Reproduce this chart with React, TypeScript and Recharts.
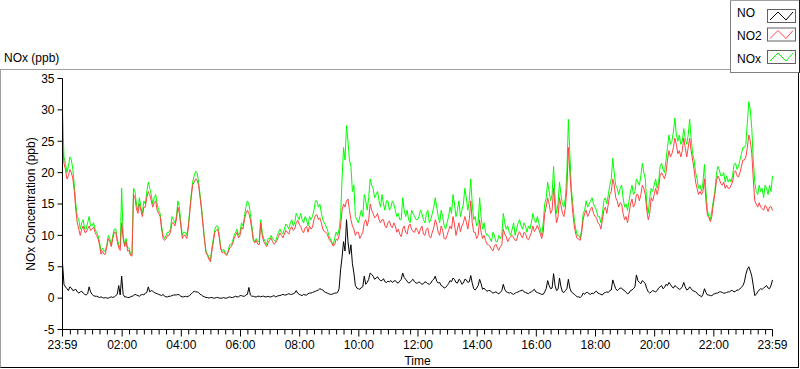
import React from 'react';
import { LineChart, Line, XAxis, YAxis } from 'recharts';

// values read every 6 minutes from the 23:59 start
const noxValues = [
  30, 21.5, 21, 22, 18, 13, 11, 12.5, 11, 13, 11.5, 11, 10, 7.5, 7.5, 8.5, 9.5, 10, 11, 8.5,
  17.5, 8.5, 8, 7, 17.5, 15, 16, 13.5, 15, 18.5, 16.5, 16, 15, 13.5, 10, 10, 10.5, 13, 12, 15.5, 12,
  10.5, 10, 14, 18.5, 20.2, 18.5, 14.5, 9.5, 7, 6, 9.5, 11.5, 10, 7.5, 7.2, 7.5, 8.5, 10, 11, 10.5,
  11.5, 14.5, 15, 11.5, 9, 9, 12.5, 9.5, 8.5, 9.5, 9.5, 9, 10.5, 10.5, 11, 11.5, 12, 11.5, 13.5, 12.5,
  12.5, 13, 11.5, 12.5, 14, 15.5, 15, 12.5, 11.5, 10, 9, 9.5, 10, 13, 24, 27.5, 22, 17, 13, 12,
  14, 16.5, 14, 19, 17.5, 16.5, 15.5, 16.5, 14, 15.5, 14.5, 15, 13, 12.5, 16, 13, 12.5, 14, 13, 12.5,
  14, 12.5, 13.5, 12, 13.5, 16, 13, 14, 11.5, 12, 14.5, 16.5, 13, 15.5, 14, 17.5, 14, 19, 12.5, 11.5,
  16, 11, 10.5, 10, 9, 10, 9, 9.5, 13.5, 11, 10.5, 11, 10, 12, 11.5, 12, 10.5, 11, 13.5, 12,
  12, 10, 15, 18.5, 15.5, 21, 13.5, 18.5, 15, 16, 28.5, 17.5, 12.5, 10, 9.5, 13.5, 15.5, 15, 16, 14.5,
  13, 12, 15.5, 15, 18, 22.3, 18, 16.5, 18, 14.5, 14, 17, 16.5, 19, 18, 21.5, 19, 13.5, 17.5, 18,
  17.5, 21, 20.5, 22, 26, 25, 28.7, 25, 24.5, 27, 24.5, 28.5, 23, 20, 17.5, 17, 21.3, 14, 12.5, 15.5,
  19.5, 20.5, 19.5, 18.5, 18.5, 18.5, 21.3, 20.5, 22, 24, 24.5, 31.3, 27, 18.5, 16.5, 17, 16, 17.5, 18, 19.5,
];
// values read 3 minutes after each of the above
const noxMid = [
  22.5, 20, 22.5, 20.5, 15, 12.5, 12, 11, 12, 11.5, 12, 10.5, 9, 8, 7.5, 10, 8.5, 11, 9.5, 8,
  10, 9.5, 8, 7, 17, 14, 14.5, 15.5, 17, 17.5, 15, 16.5, 14, 11.5, 9.5, 10.5, 11, 12.5, 13, 14.5,
  10, 10.5, 11.5, 16.5, 19.5, 20, 16.5, 12, 7.5, 6.5, 8, 11, 11.5, 8, 7.8, 7, 8.5, 9, 10.5, 10,
  12, 13, 15.5, 13.5, 9.5, 9.5, 9, 10.5, 9, 9.5, 10, 9.2, 9.8, 11, 10.2, 11.8, 11, 12.5, 12, 13,
  13.5, 12, 12.5, 13, 13, 15.5, 14.5, 13.5, 12, 11, 9.5, 8.5, 10.5, 11, 19, 22, 25, 21, 18, 12.5,
  13, 13, 15.5, 16, 18, 16, 17, 14.5, 15, 15.5, 14, 15.5, 14, 13.5, 12.5, 14, 14, 12, 13.5, 12.5,
  13, 13.5, 12, 14, 12.5, 14.5, 14.5, 12, 13, 11, 13, 13.5, 15, 14, 13, 15, 16, 15.5, 15, 13,
  12, 13, 12, 10, 9.5, 10.5, 9, 10, 10, 12, 11.5, 10, 12, 11, 12.5, 11, 11.5, 11.5, 12, 12.5,
  13, 11, 12, 16, 17, 16.5, 16, 15, 16.5, 14.5, 20, 23, 15, 11, 10, 11, 14, 14.5, 15.5, 15,
  14, 13, 13.5, 16, 16.5, 19, 20, 17.5, 17.5, 16, 15, 15.5, 18, 17, 18.5, 19.5, 20, 15, 16, 17,
  19, 18.5, 21.5, 20, 24, 24.5, 26.5, 26, 26, 25, 25.5, 26, 25.5, 22, 19, 18, 18.5, 17, 13, 14,
  17, 21, 19.5, 20, 19.5, 19, 19.5, 21.5, 21, 23, 24, 28, 30, 22, 17, 18, 17.5, 18, 16.5, 17,
];

const no2Values = [
  24.5, 20.5, 19.5, 20, 17, 12, 10, 11.5, 10.5, 11.5, 11, 10.5, 9.5, 7, 7, 8.3, 9, 9.5, 10.5, 8,
  12, 8.2, 7.5, 6.8, 16.5, 14.2, 15, 13, 14.5, 17, 15.5, 15.2, 14, 13, 9.5, 9.5, 10, 12, 11.5, 14.5, 11.5,
  10, 9.5, 13.5, 18, 19, 18, 14, 9.2, 6.8, 5.8, 9, 10.8, 9.6, 7.2, 7, 7.3, 8.2, 9.5, 10.5, 10,
  11, 13.5, 13.5, 11, 8.8, 8.6, 12, 9, 8.2, 9.2, 9, 8.8, 9.8, 10, 10.2, 10.5, 11, 10.8, 12, 11.8,
  10.8, 11.2, 10.5, 11, 12.5, 13.3, 12.8, 11, 10.5, 9.5, 8.8, 8.5, 9.2, 11.5, 15, 15.5, 14, 11.5, 10, 10.5,
  10, 12, 11.5, 15, 13.5, 13, 12.5, 12.5, 11.5, 12, 11.5, 12, 10.5, 10.2, 11, 10.5, 11.5, 11, 10.5, 10.8,
  11, 10.2, 11, 9.8, 10.5, 12.5, 10.5, 11.5, 9.5, 10, 11.5, 13, 10, 12, 11.5, 13, 11, 15.5, 10.5, 9.5,
  12.5, 9.5, 9.2, 8.5, 7.8, 8.3, 8, 8.2, 11, 9.8, 9.5, 10, 9.2, 10.2, 10, 10.5, 9.5, 9.8, 11.5, 11,
  11, 9.5, 13.5, 16, 13.5, 17.5, 12, 16, 13.5, 14.5, 24, 16.5, 11.5, 9.5, 9.2, 12.5, 14, 13.5, 14.5, 13,
  12, 11, 14, 13.5, 16.5, 19, 16, 14.5, 15, 12.5, 12, 15, 14.5, 16.5, 15.5, 18, 16.5, 12.5, 16, 16.5,
  16.5, 19.5, 19.5, 20, 23.5, 23, 25.5, 23, 22.5, 25.5, 22.5, 25.5, 22, 18.5, 16.5, 16.5, 19, 13.2, 12.2, 15,
  18.5, 19, 18, 17.5, 17.5, 18, 20, 19.5, 20, 22, 22.5, 26, 23, 15.5, 14.5, 14.5, 14, 14.5, 14.5, 14,
];
const no2Mid = [
  21.5, 19, 20.5, 19, 14, 11, 11, 10.5, 11, 10.8, 11.3, 10, 8.5, 7.5, 7, 9.5, 8.2, 10.5, 9, 7.6,
  9.5, 9, 7.6, 6.7, 16, 13.5, 14, 14.5, 16, 16.5, 14.5, 15.5, 13.5, 11, 9.2, 10, 10.5, 12, 12.5, 13.5,
  9.5, 10, 11, 16, 18.5, 18.8, 16, 11.5, 7.2, 6.2, 7.5, 10.5, 11, 7.8, 7.4, 6.8, 8, 8.6, 10, 9.6,
  11.3, 12.5, 14, 12.5, 9.2, 9.2, 8.5, 10, 8.6, 8.8, 9.6, 8.6, 9.2, 10.4, 9.6, 10.8, 10.2, 11.4, 11, 12.4,
  11.4, 10.4, 11.4, 11.5, 11.3, 13.2, 12.5, 12, 10.6, 10.2, 9.1, 8.3, 9.4, 10, 14, 14.5, 15.8, 12.5, 11, 10.5,
  9.5, 10.5, 12.5, 12.5, 14, 12.8, 13.5, 12, 12.5, 11.2, 12.3, 11.2, 11.5, 11, 9.8, 11.5, 10.2, 11.8, 10.6, 11.2,
  10.2, 11.5, 10, 11.2, 9.6, 11.2, 11.8, 10, 10.8, 9.4, 10.8, 11, 11.8, 11, 10.6, 12, 12.2, 12.5, 12, 10.5,
  10, 10.5, 10, 8.6, 8.3, 7.5, 8.6, 7.6, 8.5, 10.2, 9, 9.8, 9.6, 9.2, 10.6, 9.6, 10.3, 9.3, 10.5, 10.6,
  11.6, 10.2, 10.5, 14.5, 15, 14, 14.5, 13, 14.8, 13, 17.5, 20, 13.5, 10.2, 9.4, 10.5, 13.5, 13, 14.2, 13.5,
  12.8, 11.8, 12.5, 14.5, 15, 17, 18, 15.5, 15.2, 13.5, 13, 13.5, 15.8, 15, 16.5, 16.5, 17.5, 14, 13.5, 15.5,
  17.5, 17.5, 20, 19, 22, 22.5, 24, 24.5, 23.5, 23.5, 24, 24, 23.5, 20.5, 17.5, 17, 17, 15.5, 12.8, 13,
  16.5, 19.5, 18.3, 18.5, 18, 17.5, 18.5, 20.3, 19.3, 21, 22, 24, 25, 19, 15, 15.2, 14.3, 14.8, 13.8, 14.6,
];

const noValues = [
  5.6, 1.8, 1.2, 1.6, 1.3, 1.0, 1.0, 0.8, 0.5, 1.8, 0.6, 0.3, 0.2, 0.2, 0, 0, 0.1, 0.1, 0.4, 2.0,
  3.5, 0.2, 0.1, 0.2, 0.4, 0.5, 0.3, 0.6, 0.8, 1.8, 1.2, 0.9, 0.7, 0.5, 0.6, 0.2, 0.3, 0.4, 0.5, 0.6, 0.3,
  0.2, 0.2, 0.4, 0.9, 1.0, 0.9, 0.5, 0.2, 0.1, 0.1, 0, 0.1, 0, 0, 0, 0.1, 0.1, 0.2, 0.2, 0.4,
  0.3, 0.5, 1.7, 0.3, 0.2, 0.3, 0.2, 0.3, 0.2, 0.2, 0.3, 0.2, 0.4, 0.5, 0.5, 0.6, 0.6, 0.7, 1.2, 0.6,
  0.4, 0.5, 0.7, 0.8, 1.0, 1.2, 1.5, 1.3, 0.9, 0.7, 0.6, 0.8, 0.9, 4.5, 9.0, 12.5, 7.0, 5.5, 2.0, 1.5,
  1.7, 3.5, 2.5, 4.0, 3.5, 3.2, 3.0, 2.8, 2.6, 2.7, 2.8, 2.7, 2.5, 2.7, 4.0, 3.0, 2.4, 2.8, 2.6, 2.4,
  2.4, 2.3, 2.5, 2.2, 2.8, 3.5, 2.4, 2.0, 1.6, 2.0, 2.8, 3.2, 2.5, 3.0, 2.2, 3.0, 2.5, 3.6, 1.5, 1.6,
  3.0, 1.4, 1.3, 1.2, 1.0, 0.9, 0.8, 0.9, 2.2, 1.0, 0.8, 0.7, 0.8, 1.0, 1.2, 1.0, 0.8, 0.9, 1.2, 1.0,
  0.8, 0.6, 1.0, 2.8, 1.5, 3.9, 1.2, 3.2, 1.0, 1.2, 3.0, 1.0, 0.6, 0.2, 0.1, 0.8, 0.9, 0.7, 0.8, 1.0,
  0.8, 0.6, 0.8, 1.0, 1.2, 2.9, 1.5, 1.4, 1.6, 1.2, 0.7, 1.2, 1.5, 3.7, 2.5, 2.8, 2.3, 1.0, 1.0, 1.1,
  1.2, 1.8, 1.5, 2.2, 2.5, 1.8, 2.0, 1.6, 1.5, 2.5, 1.3, 1.8, 1.2, 1.0, 0.5, 0.2, 1.5, 0.5, 0.4, 0.6,
  0.8, 1.0, 0.9, 0.8, 1.0, 1.2, 1.0, 1.3, 1.5, 2.0, 3.8, 5.0, 3.5, 0.4, 1.0, 1.5, 1.6, 2.0, 1.5, 2.9,
];
const noMid = [
  2.2, 1.5, 1.8, 1.2, 1.4, 0.8, 1.1, 0.6, 0.7, 1.0, 0.4, 0.3, 0.1, 0.1, 0.1, 0, 0.2, 0.2, 0.6, 0.5,
  0.6, 0.2, 0.1, 0.3, 0.6, 0.4, 0.5, 0.5, 0.9, 1.0, 1.1, 0.8, 0.6, 0.4, 0.3, 0.2, 0.3, 0.5, 0.5, 0.5,
  0.2, 0.3, 0.3, 0.7, 1.1, 1.0, 0.6, 0.3, 0.1, 0, 0.1, 0, 0.1, 0, 0.1, 0, 0.2, 0.1, 0.3, 0.2,
  0.4, 0.3, 0.6, 0.5, 0.3, 0.2, 0.3, 0.3, 0.2, 0.3, 0.2, 0.4, 0.3, 0.4, 0.6, 0.5, 0.7, 0.6, 0.8, 0.8,
  0.5, 0.6, 0.5, 0.8, 0.9, 1.1, 1.3, 1.4, 1.0, 0.8, 0.6, 0.7, 0.8, 1.5, 6.5, 7.5, 9.0, 8.5, 4.0, 1.6,
  1.4, 1.8, 2.2, 3.0, 3.8, 3.0, 3.4, 2.8, 3.1, 2.5, 2.6, 2.5, 2.8, 2.4, 3.0, 3.3, 2.7, 2.5, 3.0, 2.4,
  2.6, 2.2, 2.6, 2.3, 2.4, 3.0, 2.7, 2.5, 1.9, 1.7, 2.3, 2.6, 3.0, 2.4, 2.8, 2.4, 2.9, 2.6, 2.4, 1.3,
  2.0, 2.3, 1.6, 1.1, 1.2, 0.8, 1.0, 0.7, 1.2, 1.4, 0.9, 0.9, 0.6, 0.9, 1.1, 1.3, 0.9, 0.7, 1.0, 1.4,
  0.9, 0.7, 0.6, 1.5, 2.0, 1.6, 2.0, 1.4, 1.8, 0.9, 1.5, 1.6, 0.8, 0.4, 0.2, 0.3, 0.6, 0.9, 0.6, 0.7,
  1.1, 0.7, 0.5, 0.9, 0.9, 1.3, 2.2, 1.2, 1.6, 1.3, 0.9, 0.8, 1.3, 1.8, 2.8, 2.3, 2.6, 1.5, 0.8, 1.2,
  1.0, 1.6, 2.0, 1.7, 2.0, 2.2, 1.6, 1.8, 1.4, 1.8, 1.8, 1.4, 1.5, 1.1, 0.8, 0.4, 0.6, 0.9, 0.5, 0.4,
  0.7, 0.8, 1.0, 0.8, 0.9, 1.0, 1.2, 1.1, 1.3, 1.7, 2.6, 4.6, 4.3, 2.0, 0.6, 1.3, 1.4, 1.8, 1.6, 2.0,
];

const xMajorTicks = [0, 121, 241, 361, 481, 601, 721, 841, 961, 1081, 1201, 1321, 1440];
const xTickLabels = ['23:59', '02:00', '04:00', '06:00', '08:00', '10:00', '12:00', '14:00', '16:00', '18:00', '20:00', '22:00', '23:59'];
const yTicks = [-5, 0, 5, 10, 15, 20, 25, 30, 35];

const legendItems = [
  { name: 'NO', color: '#000000' },
  { name: 'NO2', color: '#ff4444' },
  { name: 'NOx', color: '#00ff00' },
];

// minor ticks every 15 minutes from midnight
const xTicks = [0];
for (let m = 16; m < 1440; m += 15) xTicks.push(m);
xTicks.push(1440);

const data: { t: number; no: number; no2: number; nox: number }[] = [];
noValues.forEach((_, i) => {
  data.push({ t: i * 6, no: noValues[i], no2: no2Values[i], nox: noxValues[i] });
  if (i < noMid.length) {
    data.push({ t: i * 6 + 3, no: noMid[i], no2: no2Mid[i], nox: noxMid[i] });
  }
});

const font = '"Liberation Sans", Arial, sans-serif';

const XTick = (props: any) => {
  const { x, y, payload } = props;
  const idx = xMajorTicks.indexOf(payload.value);
  const major = idx >= 0;
  return (
    <g>
      <line x1={x} x2={x} y1={y} y2={y + (major ? 7 : 5)} stroke="#000" />
      {major && (
        <text x={x} y={y + 19} textAnchor="middle" fontSize={12} fontFamily={font} fill="#000">
          {xTickLabels[idx]}
        </text>
      )}
    </g>
  );
};

const yLabel = (props: any) => {
  const { viewBox } = props;
  const cx = viewBox.x + 12.5;
  const cy = viewBox.y + viewBox.height / 2;
  return (
    <text x={cx} y={cy} transform={`rotate(-90 ${cx} ${cy})`} textAnchor="middle" fontSize={12} fontFamily={font} fill="#000">
      NOx Concentration (ppb)
    </text>
  );
};

const xLabel = (props: any) => {
  const { viewBox } = props;
  return (
    <text x={viewBox.x + viewBox.width / 2} y={viewBox.y + 35.5} textAnchor="middle" fontSize={12} fontFamily={font} fill="#000">
      Time
    </text>
  );
};

function PlotLegend() {
  const rows = [
    { box: 9, text: 17 },
    { box: 27.5, text: 39.5 },
    { box: 50, text: 63 },
  ];
  return (
    <svg width={70} height={73} style={{ position: 'absolute', left: 730, top: 0 }}>
      <rect x={0} y={0} width={70} height={73} fill="#fff" />
      <line x1={0.5} y1={0} x2={0.5} y2={73} stroke="#808080" />
      <line x1={0} y1={0.5} x2={70} y2={0.5} stroke="#a0a0a0" />
      <line x1={0} y1={72.5} x2={70} y2={72.5} stroke="#808080" />
      <line x1={69.5} y1={0} x2={69.5} y2={73} stroke="#202020" />
      {legendItems.map((item, i) => (
        <g key={item.name}>
          <text x={7} y={rows[i].text} fontSize={12} fontFamily={font} fill="#000">
            {item.name}
          </text>
          <rect x={37.5} y={rows[i].box + 0.5} width={28} height={13} fill="#fff" stroke="#606060" />
          <polyline
            points={`${40},${rows[i].box + 11} ${48},${rows[i].box + 3} ${56},${rows[i].box + 11} ${63},${rows[i].box + 3}`}
            fill="none"
            stroke={item.color}
            strokeWidth={1}
          />
        </g>
      ))}
    </svg>
  );
}

export default function App() {
  return (
    <div style={{ position: 'absolute', left: 0, top: 0, width: 800, height: 369, background: '#fff', overflow: 'hidden' }}>
      <div
        style={{
          position: 'absolute',
          left: 0,
          top: 69,
          width: 799,
          height: 299,
          boxSizing: 'border-box',
          borderTop: '1px solid #a0a0a0',
          borderLeft: '1px solid #a0a0a0',
          borderRight: '1px solid #000',
          borderBottom: '1px solid #000',
        }}
      />
      <div style={{ position: 'absolute', left: 4, top: 50, fontFamily: font, fontSize: 12, lineHeight: '16px', color: '#000' }}>
        NOx (ppb)
      </div>
      <div style={{ position: 'absolute', left: 0, top: 0 }}>
        <LineChart width={800} height={369} data={data} margin={{ top: 78.5, right: 27.5, bottom: 9.5, left: 22.5 }}>
          <XAxis
            dataKey="t"
            type="number"
            domain={[0, 1440]}
            ticks={xTicks}
            interval={0}
            tickSize={0}
            tickMargin={0}
            tickLine={false}
            tick={<XTick />}
            axisLine={{ stroke: '#000' }}
            height={30}
            label={xLabel}
          />
          <XAxis
            xAxisId="top"
            orientation="top"
            dataKey="t"
            type="number"
            domain={[0, 1440]}
            height={0}
            tick={false}
            tickLine={false}
            axisLine={{ stroke: '#000' }}
          />
          <YAxis
            type="number"
            domain={[-5, 35]}
            ticks={yTicks}
            interval={0}
            width={40}
            tickSize={5}
            tickMargin={3}
            tick={{ fill: '#000', fontSize: 12, fontFamily: font }}
            tickLine={{ stroke: '#000' }}
            axisLine={{ stroke: '#000' }}
            label={yLabel}
          />
          <YAxis
            yAxisId="right"
            orientation="right"
            type="number"
            domain={[-5, 35]}
            width={0}
            tick={false}
            tickLine={false}
            axisLine={{ stroke: '#8a8a8a' }}
          />
          <Line dataKey="nox" stroke="#00ff00" strokeWidth={1} dot={false} activeDot={false} isAnimationActive={false} />
          <Line dataKey="no2" stroke="#ff4444" strokeWidth={1} dot={false} activeDot={false} isAnimationActive={false} />
          <Line dataKey="no" stroke="#000000" strokeWidth={1} dot={false} activeDot={false} isAnimationActive={false} />
        </LineChart>
      </div>
      <PlotLegend />
    </div>
  );
}
